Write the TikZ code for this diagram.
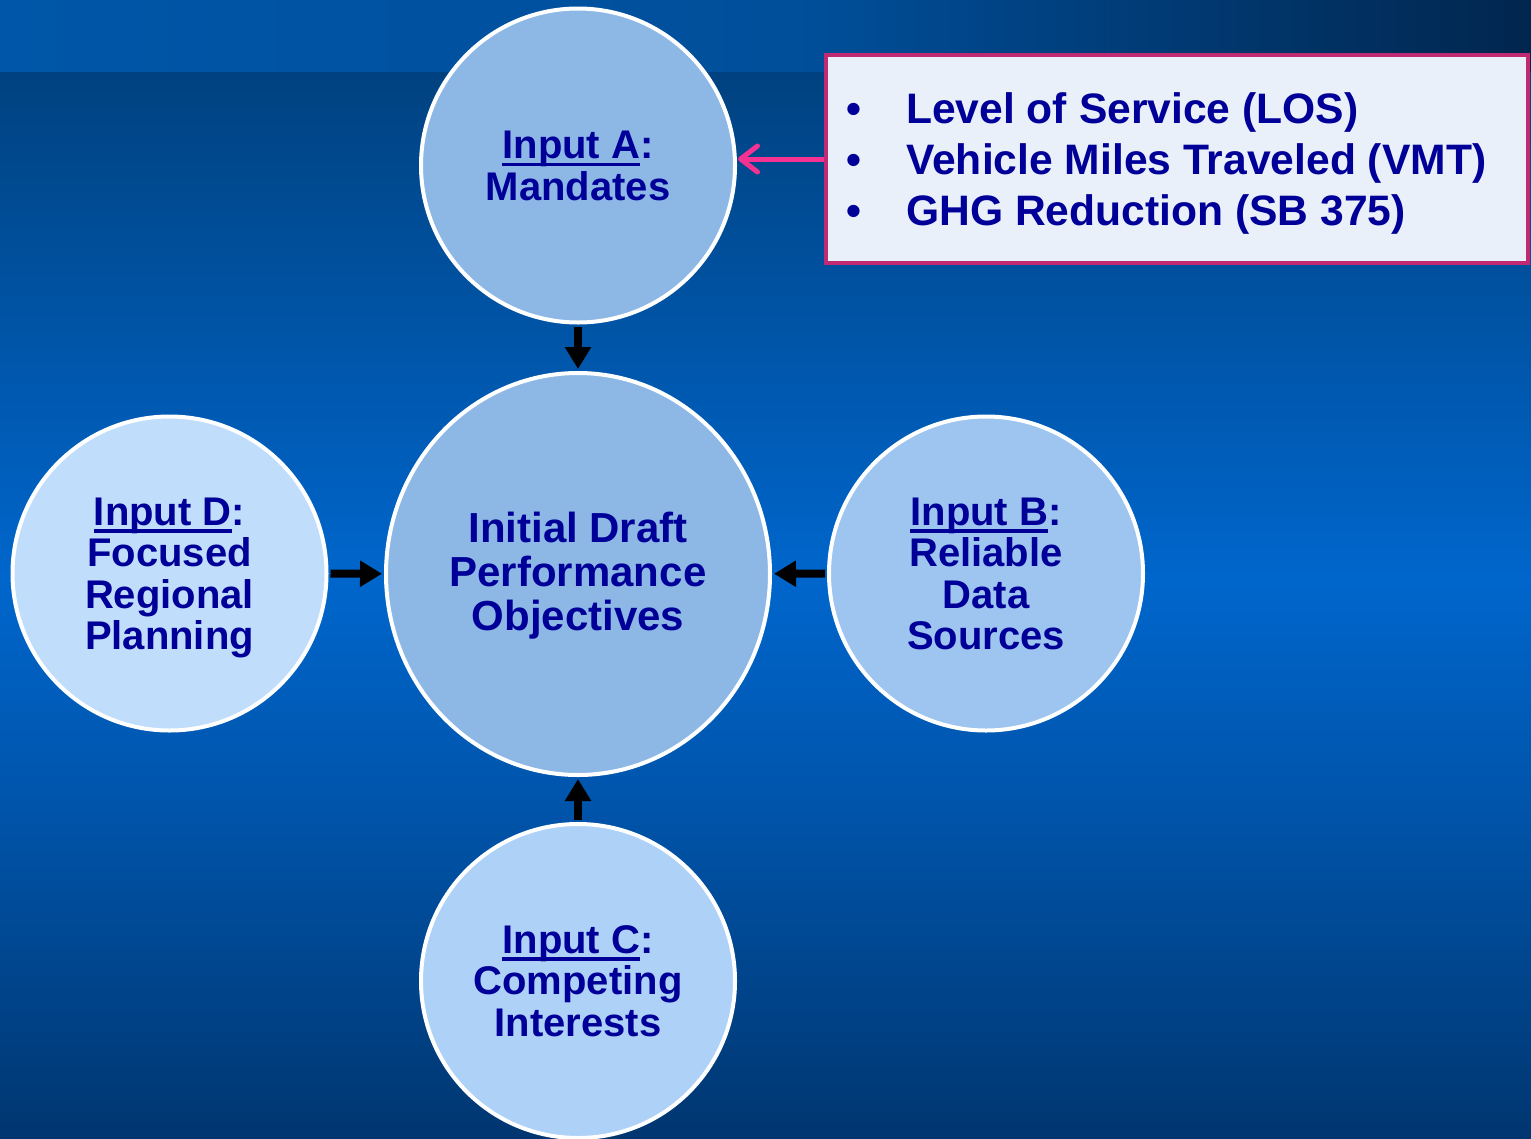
\documentclass[tikz,border=0pt]{standalone}
\usepackage{fontspec}
\setmainfont{Liberation Sans}
\usetikzlibrary{arrows.meta,shapes.geometric}
\definecolor{ink}{RGB}{0,0,153}
\definecolor{fillA}{RGB}{141,184,230}
\definecolor{fillB}{RGB}{157,197,240}
\definecolor{fillC}{RGB}{174,209,247}
\definecolor{fillD}{RGB}{192,222,252}
\definecolor{boxfill}{RGB}{233,240,249}
\definecolor{boxline}{RGB}{192,42,114}
\definecolor{pinkline}{RGB}{245,50,145}
\definecolor{bgband}{RGB}{0,86,168}
\definecolor{bgbandR}{RGB}{1,38,78}
\definecolor{bgtop}{RGB}{0,66,128}
\definecolor{bgmid}{RGB}{0,102,204}
\definecolor{bglow}{RGB}{0,83,168}
\definecolor{bgbot}{RGB}{0,54,112}
\newcommand\ulin[1]{\setbox0\hbox{#1}\rlap{\rule[-7.5pt]{\wd0}{3.5pt}}\box0}
\begin{document}
\begin{tikzpicture}[x=1pt,y=-1pt,
  inp/.style={circle, draw=white, line width=4pt, minimum size=314pt, inner sep=0pt,
    text depth=0pt, align=center, text=ink, font=\bfseries\fontsize{40}{41.5}\selectfont},
  ctr/.style={ellipse, draw=white, line width=4pt, minimum width=384pt, minimum height=402pt,
    inner sep=0pt, text depth=4.5pt, fill=fillA, align=center, text=ink,
    font=\bfseries\fontsize{42}{44}\selectfont},
  blkarr/.style={draw=black, line width=8pt, shorten <=2pt, shorten >=2pt,
    -{Triangle[length=22pt,width=25pt]}},
  pinkarr/.style={draw=pinkline, line width=5pt, shorten >=1pt,
    -{Straight Barb[length=17pt,width=26pt,line width=5pt,line cap=round,line join=round]}},
  infobox/.style={rectangle, draw=boxline, line width=4pt, fill=boxfill,
    minimum width=702pt, minimum height=208pt, inner sep=0pt},
  listtext/.style={anchor=base west, inner sep=0pt, text=ink, align=left,
    font=\bfseries\fontsize{42.6}{51}\selectfont}
]
\useasboundingbox (0,0) rectangle (1531,1138);
% background
\shade[left color=bgband, right color=bgband!85!bgbandR] (0,0) rectangle (800,72);
\shade[left color=bgband!85!bgbandR, right color=bgbandR] (799.5,0) rectangle (1531,72);
\shade[top color=bgtop, bottom color=bgmid] (0,72) rectangle (1531,580);
\shade[top color=bgmid, bottom color=bglow] (0,579.5) rectangle (1531,820);
\shade[top color=bglow, bottom color=bgbot] (0,819.5) rectangle (1531,1138);

% nodes
\node[inp, fill=fillA] (A) at (578,165.5) {\ulin{Input A}:\\Mandates};
\node[ctr] (core) at (578,574) {Initial Draft\\Performance\\Objectives};
\node[inp, fill=fillD] (D) at (169.5,573.5) {\ulin{Input D}:\\Focused\\Regional\\Planning};
\node[inp, fill=fillB] (B) at (986,573.5) {\ulin{Input B}:\\Reliable\\Data\\Sources};
\node[inp, fill=fillC] (Cin) at (578,981) {\ulin{Input C}:\\Competing\\Interests};

\node[infobox] (box) at (1177,159) {};
\node[listtext] (list) at (846,123) {\begin{tabular}[t]{@{}l@{}}
\makebox[60pt][l]{\textbullet}Level of Service (LOS)\\
\makebox[60pt][l]{\textbullet}Vehicle Miles Traveled (VMT)\\
\makebox[60pt][l]{\textbullet}GHG Reduction (SB 375)
\end{tabular}};

% connectors
\draw[blkarr] (A) -- (core);
\draw[blkarr] (D) -- (core);
\draw[blkarr] (B) -- (core);
\draw[blkarr] (Cin) -- (core);
\draw[pinkarr] (box.west) -- (box.west -| A.east);
\end{tikzpicture}
\end{document}
